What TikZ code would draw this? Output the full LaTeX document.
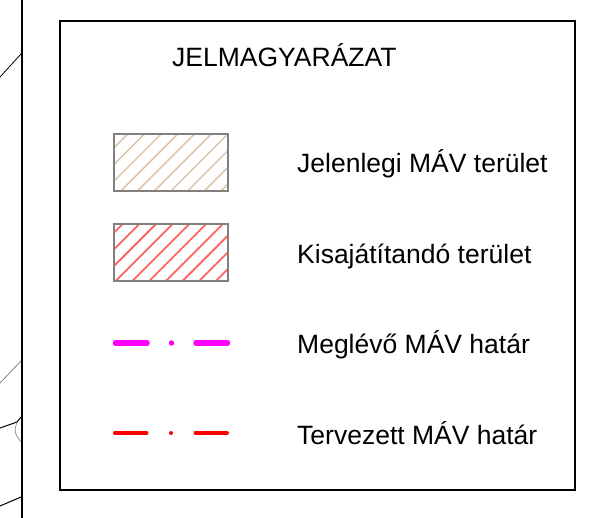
\documentclass[tikz,border=0pt]{standalone}
\usepackage{fontspec}
\setmainfont{Liberation Sans}
\definecolor{tanhatch}{RGB}{222,196,170}
\definecolor{redhatch}{RGB}{255,100,100}
\definecolor{mavmagenta}{RGB}{255,0,255}
\definecolor{mavred}{RGB}{255,0,0}
\definecolor{framegray}{RGB}{128,128,128}

\begin{document}
\begin{tikzpicture}[x=1pt, y=-1pt, line cap=round, line join=round,
    every node/.style={inner sep=0pt, anchor=base west, font=\fontsize{26.5}{30}\selectfont},
    legendline/.style={line width=#1, dash pattern=on 31.5pt off 24.5pt on 0pt off 24.5pt}]
  \useasboundingbox (0,0) rectangle (607,518);

  % edge of the map
  \draw[line width=2pt, line cap=butt] (21.5,0) -- (21.5,518);
  \draw[line width=0.8pt] (0,77) -- (21,54);
  \draw[line width=0.8pt, color=gray] (0,383) -- (21,361);
  \draw[line width=1pt] (0,428) -- (17,422) -- (21,417);
  \draw[line width=0.6pt, color=gray] (17,422) .. controls (14,432) .. (21,442);
  \draw[line width=1pt] (0,506) -- (21,497);

  \draw[line width=2pt, line join=miter] (60,21) rectangle (575,490);
  \node (title) at (172,67) {JELMAGYARÁZAT};

  % hatched areas
  \begin{scope}
    \clip (114,134) rectangle (228,191);
    \foreach \k in {-1,...,9}
      \draw[line width=1.5pt, color=tanhatch] ({261.7+16.7*\k-130},130) -- ++(-65,65);
  \end{scope}
  \draw[line width=1.2pt, color=framegray, line join=miter] (114,134) rectangle (228,191);
  \node (present) at (297,173) {Jelenlegi MÁV terület};

  \begin{scope}
    \clip (114,224) rectangle (228,281);
    \foreach \k in {-1,...,8}
      \draw[line width=1.8pt, color=redhatch] ({363.3+16.7*\k-220},220) -- ++(-65,65);
  \end{scope}
  \draw[line width=1.2pt, color=framegray, line join=miter] (114,224) rectangle (228,281);
  \node (expropriate) at (297,264) {Kisajátítandó terület};

  % boundaries
  \draw[legendline=5.5pt, color=mavmagenta] (115.5,343) -- (227.5,343);
  \node (existing) at (297,353) {Meglévő MÁV határ};

  \draw[legendline=4pt, color=mavred] (115,433) -- (227,433);
  \node (planned) at (297,444) {Tervezett MÁV határ};

\end{tikzpicture}
\end{document}
